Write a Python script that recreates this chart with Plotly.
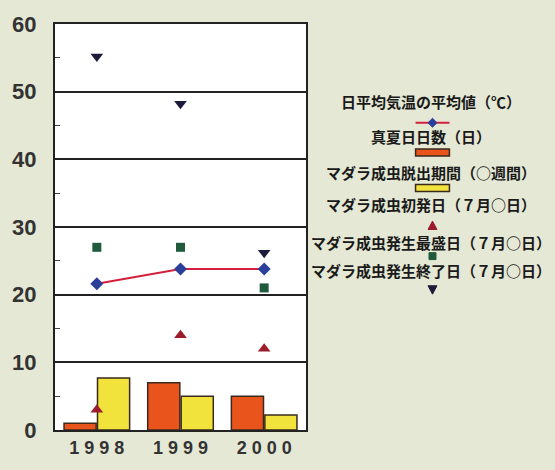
import plotly.graph_objects as go

years = ["1998", "1999", "2000"]
year_ticktext = ["1 9 9 8", "1 9 9 9", "2 0 0 0"]
temp_avg = [21.6, 23.8, 23.8]
hot_days = [1.0, 7.0, 5.0]
emergence_weeks = [7.7, 5.0, 2.2]
first_day = [3.0, 14.0, 12.0]
peak_day = [27.0, 27.0, 21.0]
end_day = [55.2, 48.2, 26.2]

legend_labels = [
    "日平均気温の平均値（℃）",
    "真夏日日数（日）",
    "マダラ成虫脱出期間（○週間）",
    "マダラ成虫初発日（７月○日）",
    "マダラ成虫発生最盛日（７月○日）",
    "マダラ成虫発生終了日（７月○日）",
]

W, H = 555, 470
L, R, T, B = 54, 306, 22, 433

RED_BAR = "#e8541c"
YEL_BAR = "#f1e23c"
EDGE = "#3a2a1e"
LINE_RED = "#d3203c"
DIAMOND = "#2a3f9a"
TRI_UP = "#9c1c2c"
SQUARE = "#1f5a3c"
TRI_DN = "#1c1c3a"

fig = go.Figure()
fig.add_bar(x=years, y=hot_days, name=legend_labels[1], marker=dict(color=RED_BAR, line=dict(color=EDGE, width=1.5)))
fig.add_bar(x=years, y=emergence_weeks, name=legend_labels[2], marker=dict(color=YEL_BAR, line=dict(color=EDGE, width=1.5)))
fig.add_scatter(x=years, y=temp_avg, name=legend_labels[0], mode="lines+markers",
                line=dict(color=LINE_RED, width=2),
                marker=dict(symbol="diamond", size=10, color=DIAMOND))
fig.add_scatter(x=years, y=first_day, name=legend_labels[3], mode="markers",
                marker=dict(symbol="triangle-up", size=11, color=TRI_UP))
fig.add_scatter(x=years, y=peak_day, name=legend_labels[4], mode="markers",
                marker=dict(symbol="square", size=9, color=SQUARE))
fig.add_scatter(x=years, y=end_day, name=legend_labels[5], mode="markers",
                marker=dict(symbol="triangle-down", size=11, color=TRI_DN))


def px_x(p):
    return (p - L) / (R - L)


def px_y(p):
    return (B - p) / (B - T)


# custom legend: label with symbol underneath
label_y = [100, 136, 172, 205, 243, 272]
sym_y = [122, 152, 188, 226, 257, 291]
cx_lab = 431
cx_sym = 433
annotations = []
for lab, yy in zip(legend_labels, label_y):
    annotations.append(dict(text=lab, xref="paper", yref="paper", x=px_x(cx_lab), y=px_y(yy),
                            showarrow=False, xanchor="center", yanchor="middle",
                            font=dict(family="Noto Sans CJK JP", size=15, color="#1a1a1a", weight="bold")))

shapes = []
# line + diamond
shapes.append(dict(type="line", xref="paper", yref="paper",
                   x0=px_x(cx_sym - 17), x1=px_x(cx_sym + 17), y0=px_y(sym_y[0]), y1=px_y(sym_y[0]),
                   line=dict(color=LINE_RED, width=2)))


def poly(points, color, line_color=None):
    path = "M " + " L ".join(f"{px_x(a)},{px_y(b)}" for a, b in points) + " Z"
    return dict(type="path", xref="paper", yref="paper", path=path, fillcolor=color,
                line=dict(color=line_color or color, width=1))


cy = sym_y[0]
shapes.append(poly([(cx_sym, cy - 4.5), (cx_sym + 4.5, cy), (cx_sym, cy + 4.5), (cx_sym - 4.5, cy)], DIAMOND))
# bars
for yy, col in ((sym_y[1], RED_BAR), (sym_y[2], YEL_BAR)):
    shapes.append(dict(type="rect", xref="paper", yref="paper",
                       x0=px_x(cx_sym - 17), x1=px_x(cx_sym + 17), y0=px_y(yy - 3.5), y1=px_y(yy + 3.5),
                       fillcolor=col, line=dict(color=EDGE, width=1.5)))
cy = sym_y[3]
shapes.append(poly([(cx_sym - 4.5, cy + 4), (cx_sym + 4.5, cy + 4), (cx_sym, cy - 4.5)], TRI_UP))
cy = sym_y[4]
shapes.append(poly([(cx_sym - 3.5, cy - 3.5), (cx_sym + 3.5, cy - 3.5), (cx_sym + 3.5, cy + 3.5), (cx_sym - 3.5, cy + 3.5)], SQUARE))
cy = sym_y[5]
shapes.append(poly([(cx_sym - 4.5, cy - 4), (cx_sym + 4.5, cy - 4), (cx_sym, cy + 4.5)], TRI_DN))

fig.update_layout(
    width=W, height=H,
    margin=dict(l=L, r=W - R, t=T, b=H - B, pad=0),
    paper_bgcolor="#e4e8d4",
    plot_bgcolor="#ffffff",
    showlegend=False,
    barmode="group",
    bargap=0.2,
    bargroupgap=0.04,
    annotations=annotations,
    shapes=shapes,
)
fig.update_xaxes(
    type="category", range=[-0.5, 2.5],
    tickvals=years, ticktext=year_ticktext,
    showline=True, linecolor="#222222", linewidth=2, mirror=True,
    ticks="", showgrid=False,
    tickfont=dict(family="Liberation Sans", size=18, color="#333333", weight="bold"),
)
fig.update_yaxes(
    range=[0, 60], dtick=10,
    showline=True, linecolor="#222222", linewidth=2, mirror=True,
    showgrid=True, gridcolor="#222222", gridwidth=1.5,
    ticks="", ticklabelstandoff=12,
    minor=dict(dtick=5, ticks="inside", ticklen=5, tickcolor="#444444", showgrid=False),
    tickfont=dict(family="Liberation Sans", size=22, color="#333333", weight="bold"),
    zeroline=False,
)

fig.write_html("out.html")
